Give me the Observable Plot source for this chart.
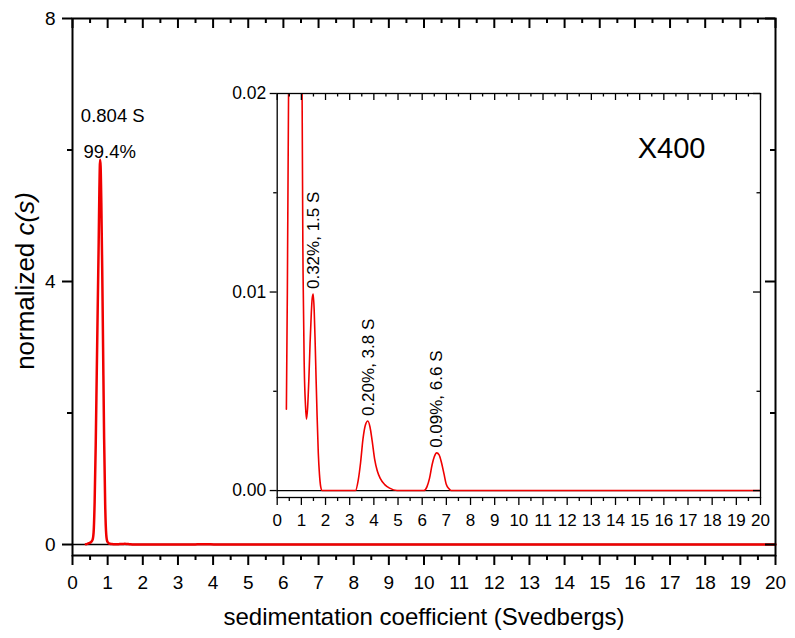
<!DOCTYPE html>
<html>
<head>
<meta charset="utf-8">
<script src="https://cdn.jsdelivr.net/npm/d3@7"></script>
<script src="https://cdn.jsdelivr.net/npm/@observablehq/plot@0.6"></script>
<style>
  html, body { margin: 0; padding: 0; background: white; }
  #wrap { position: relative; width: 795px; height: 638px; font-family: "Liberation Sans", Arial, Helvetica, sans-serif; }
  #inset { position: absolute; left: 220px; top: 75px; }
</style>
</head>
<body>
<div id="wrap"><div id="main"></div><div id="inset"></div></div>
<script>
// sedimentation coefficient (S) and normalized c(s)
const sValues = [0.38,0.42,0.47,0.52,0.57,0.60,0.63,0.66,0.69,0.72,0.745,0.765,0.785,0.80,0.82,0.845,0.87,0.90,0.93,0.96,0.99,1.03,1.07,1.12,1.17,1.21,1.26,1.31,1.36,1.41,1.45,1.49,1.53,1.57,1.61,1.65,1.70,1.75,1.80,1.86,2.2,2.6,3.0,3.24,3.35,3.45,3.55,3.65,3.75,3.84,3.93,4.03,4.14,4.27,4.45,4.65,4.96,5.5,6.07,6.2,6.3,6.41,6.5,6.6,6.7,6.8,6.9,7.0,7.1,7.2,8,10,12,14,16,18,20];
const cValues = [0.0041,0.010,0.02,0.035,0.07,0.18,0.65,1.5,2.6,3.7,4.6,5.4,5.85,5.75,5.2,4.2,3.0,1.6,0.6,0.15,0.045,0.02,0.011,0.0062,0.0043,0.0036,0.0042,0.0056,0.0074,0.0089,0.0097,0.0099,0.0091,0.0075,0.0056,0.0038,0.0019,0.0008,0.0002,0,0,0,0,0,0.0005,0.0014,0.0026,0.0033,0.0035,0.0032,0.0025,0.0016,0.0010,0.0006,0.0003,0.00012,0,0,0,0.0002,0.0006,0.0013,0.0017,0.0019,0.0018,0.0014,0.00085,0.0003,0.0001,0,0,0,0,0,0,0,0];

// main peak annotation
const mainPeakS = [0.804];
const mainPeakC = [5.85];
const mainPeakLabels = ["0.804 S", "99.4%"];

// minor peaks annotation (inset)
const minorPeakS = [1.5, 3.8, 6.6];
const minorPeakC = [0.0099, 0.0035, 0.0019];
const minorPeakLabels = ["0.32%, 1.5 S", "0.20%, 3.8 S", "0.09%, 6.6 S"];
const insetLabel = "X400";

// ticks
const xMajor = [0,1,2,3,4,5,6,7,8,9,10,11,12,13,14,15,16,17,18,19,20];
const xMinor = [0.5,1.5,2.5,3.5,4.5,5.5,6.5,7.5,8.5,9.5,10.5,11.5,12.5,13.5,14.5,15.5,16.5,17.5,18.5,19.5];
const yMajor = [0, 4, 8];
const yMinor = [2, 6];
const insetYMajor = [0, 0.01, 0.02];
const insetYLabels = ["0.00", "0.01", "0.02"];
const insetYMinor = [0.005, 0.015];

const xTitle = "sedimentation coefficient (Svedbergs)";
const yTitleA = "normalized ";
const yTitleB = "c(s)";

const data = sValues.map((s, i) => ({s, c: cValues[i]}));
const FONT = '"Liberation Sans", Arial, Helvetica, sans-serif';

// ---------- main chart ----------
const W = 795, H = 638, mL = 72, mR = 20, mT = 18, mB = 83;
const fw = W - mL - mR, fh = H - mT - mB;
const main = Plot.plot({
  width: W, height: H,
  marginLeft: mL, marginRight: mR, marginTop: mT, marginBottom: mB,
  x: {domain: [0, 20], label: null},
  y: {domain: [-0.167, 8], label: null},
  style: {fontFamily: FONT, fontSize: "19px", color: "black", background: "white", overflow: "visible"},
  marks: [
    Plot.ruleY([0], {stroke: "black", strokeWidth: 1.5}),
    Plot.line(data, {x: "s", y: "c", stroke: "#f00000", strokeWidth: 2.5, curve: "monotone-x"}),
    Plot.frame({stroke: "black", strokeWidth: 2}),
    Plot.axisX({anchor: "bottom", ticks: xMajor, tickSize: 10, tickFormat: () => "", strokeWidth: 2, label: null}),
    Plot.axisX({anchor: "bottom", ticks: xMinor, tickSize: 5, tickFormat: () => "", strokeWidth: 2, label: null}),
    Plot.axisY({anchor: "left", ticks: yMajor, tickSize: 10, tickFormat: () => "", strokeWidth: 2, label: null}),
    Plot.axisY({anchor: "left", ticks: yMinor, tickSize: 5, tickFormat: () => "", strokeWidth: 2, label: null}),
    Plot.text(xMajor, {x: d => d, frameAnchor: "bottom", lineAnchor: "middle", dy: 27, text: d => String(d), fontSize: 19, fill: "black"}),
    Plot.text(yMajor, {y: d => d, frameAnchor: "left", textAnchor: "end", dx: -17, text: d => String(d), fontSize: 19, fill: "black"}),
    Plot.tickX(xMajor, {x: d => d, insetBottom: fh - 10, strokeWidth: 2}),
    Plot.tickX(xMinor, {x: d => d, insetBottom: fh - 5, strokeWidth: 2}),
    Plot.tickY(yMajor, {y: d => d, insetLeft: fw - 10, strokeWidth: 2}),
    Plot.tickY(yMinor, {y: d => d, insetLeft: fw - 5, strokeWidth: 2}),
    Plot.text([mainPeakLabels[0]], {x: () => mainPeakS[0], y: () => mainPeakC[0], text: d => d, dx: 12, dy: -44, fontSize: 18.5, fill: "black"}),
    Plot.text([mainPeakLabels[1]], {x: () => mainPeakS[0], y: () => mainPeakC[0], text: d => d, dx: 9, dy: -8, fontSize: 18.5, fill: "black"}),
    Plot.text([xTitle], {frameAnchor: "bottom", lineAnchor: "middle", text: d => d, dy: 62, fontSize: 24, fill: "black"})
  ]
});
document.getElementById("main").appendChild(main);

// y title with italic c(s)
const yt = d3.select(main).append("text")
  .attr("transform", `translate(34, ${mT + fh * (8 - 4) / 8.167}) rotate(-90)`)
  .attr("text-anchor", "middle")
  .attr("font-family", FONT)
  .attr("font-size", 26)
  .attr("fill", "black");
yt.append("tspan").text(yTitleA);
yt.append("tspan").attr("font-style", "italic").text(yTitleB);

// ---------- inset ----------
const iW = 552, iH = 465, iL = 56.7, iR = 12, iT = 18, iB = 43;
const ifw = iW - iL - iR, ifh = iH - iT - iB;
const inset = Plot.plot({
  width: iW, height: iH,
  marginLeft: iL, marginRight: iR, marginTop: iT, marginBottom: iB,
  x: {domain: [0, 20], label: null},
  y: {domain: [-0.00035, 0.02], label: null},
  style: {fontFamily: FONT, fontSize: "17px", color: "black", background: "transparent", overflow: "visible"},
  marks: [
    Plot.ruleY([0], {stroke: "black", strokeWidth: 1.2}),
    Plot.line(data, {x: "s", y: "c", stroke: "#f00000", strokeWidth: 1.6, curve: "monotone-x", clip: true}),
    Plot.frame({stroke: "black", strokeWidth: 1.3}),
    Plot.axisX({anchor: "bottom", ticks: xMajor, tickSize: 8, tickFormat: () => "", strokeWidth: 1.3, label: null}),
    Plot.axisX({anchor: "bottom", ticks: xMinor, tickSize: 4, tickFormat: () => "", strokeWidth: 1.3, label: null}),
    Plot.axisY({anchor: "left", ticks: insetYMajor, tickSize: 7, tickFormat: () => "", strokeWidth: 1.3, label: null}),
    Plot.axisY({anchor: "left", ticks: insetYMinor, tickSize: 3.5, tickFormat: () => "", strokeWidth: 1.3, label: null}),
    Plot.text(xMajor, {x: d => d, frameAnchor: "bottom", lineAnchor: "middle", dy: 23, text: d => String(d), fontSize: 17, fill: "black"}),
    Plot.text(insetYMajor, {y: d => d, frameAnchor: "left", textAnchor: "end", dx: -11, text: (d, i) => insetYLabels[i], fontSize: 17.5, fill: "black"}),
    Plot.tickX(xMajor, {x: d => d, insetBottom: ifh - 7, strokeWidth: 1.3}),
    Plot.tickX(xMinor, {x: d => d, insetBottom: ifh - 3.5, strokeWidth: 1.3}),
    Plot.tickY(insetYMajor, {y: d => d, insetLeft: ifw - 7, strokeWidth: 1.3}),
    Plot.tickY(insetYMinor, {y: d => d, insetLeft: ifw - 3.5, strokeWidth: 1.3}),
    Plot.text(minorPeakLabels, {x: (d, i) => minorPeakS[i], y: (d, i) => minorPeakC[i], text: d => d, rotate: -90, textAnchor: "start", dy: -5, fontSize: 17, fill: "black"}),
    Plot.text([insetLabel], {frameAnchor: "top-right", text: d => d, textAnchor: "end", lineAnchor: "middle", dx: -55, dy: 55, fontSize: 29, fill: "black"})
  ]
});
document.getElementById("inset").appendChild(inset);
</script>
</body>
</html>
